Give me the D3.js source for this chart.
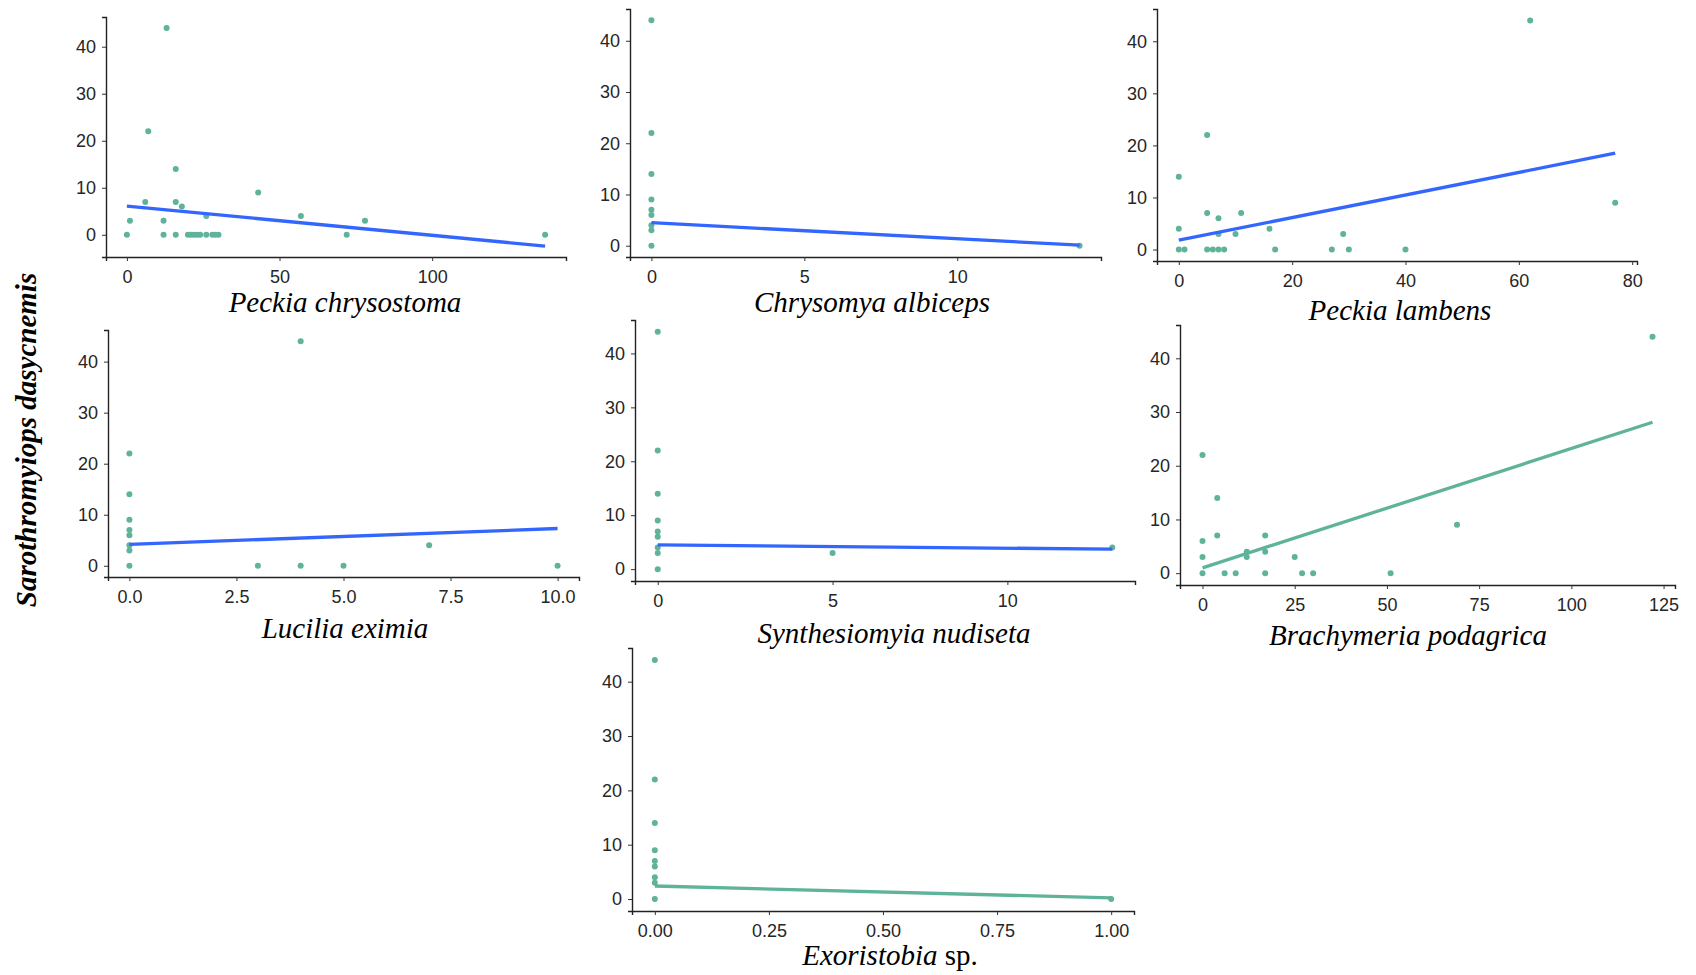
<!DOCTYPE html>
<html>
<head>
<meta charset="utf-8">
<script src="https://cdn.jsdelivr.net/npm/d3@7"></script>
<style>
  body { margin: 0; background: #fff; }
  .tick text { font-family: "Liberation Sans", Arial, sans-serif; font-size: 18px; fill: #262626; }
  .title { font-family: "Liberation Serif", "Times New Roman", serif; font-style: italic; font-size: 29px; fill: #000; }
</style>
</head>
<body>
<script>
// y variable label shared by every panel
var yLabel = "Sarothromyiops dasycnemis";
var titles = ["Peckia chrysostoma", "Chrysomya albiceps", "Peckia lambens", "Lucilia eximia",
  "Synthesiomyia nudiseta", "Brachymeria podagrica", "Exoristobia sp."];

// values (x = species count, y = S. dasycnemis count)
var chrysostomaX = [0, 1, 6, 7, 13, 12, 12, 16, 16, 16, 18, 20, 21, 22, 23, 24, 26, 26, 28, 29, 30, 43, 57, 72, 78, 137];
var chrysostomaY = [0, 3, 7, 22, 44, 3, 0, 14, 7, 0, 6, 0, 0, 0, 0, 0, 4, 0, 0, 0, 0, 9, 4, 0, 3, 0];
var albicepsX = [0, 0, 0, 0, 0, 0, 0, 0, 0, 14];
var albicepsY = [44, 22, 14, 9, 7, 6, 4, 3, 0, 0];
var lambensX = [0, 0, 0, 1, 5, 5, 5, 6, 7, 7, 7, 8, 10, 11, 16, 17, 27, 29, 30, 40, 62, 77];
var lambensY = [14, 4, 0, 0, 22, 7, 0, 0, 6, 3, 0, 0, 3, 7, 4, 0, 0, 3, 0, 0, 44, 9];
var eximiaX = [0, 0, 0, 0, 0, 0, 0, 0, 3, 4, 4, 5, 7, 10];
var eximiaY = [22, 14, 9, 7, 6, 4, 3, 0, 0, 44, 0, 0, 4, 0];
var nudisetaX = [0, 0, 0, 0, 0, 0, 0, 0, 0, 5, 13];
var nudisetaY = [44, 22, 14, 9, 7, 6, 4, 3, 0, 3, 4];
var podagricaX = [0, 0, 0, 0, 4, 4, 6, 9, 12, 12, 17, 17, 17, 25, 27, 30, 51, 69, 122];
var podagricaY = [22, 6, 3, 0, 14, 7, 0, 0, 4, 3, 7, 4, 0, 3, 0, 0, 0, 9, 44];
var exoristobiaX = [0, 0, 0, 0, 0, 0, 0, 0, 0, 1];
var exoristobiaY = [44, 22, 14, 9, 7, 6, 4, 3, 0, 0];

// fitted line: y at min x and y at max x
var fitStart = [6.1, 4.5, 1.8, 4.2, 4.5, 1.0, 2.4];
var fitEnd = [-2.4, 0.1, 18.5, 7.3, 3.7, 28.1, 0.2];

var xTicks = [[0, 50, 100], [0, 5, 10], [0, 20, 40, 60, 80], [0, 2.5, 5, 7.5, 10],
  [0, 5, 10], [0, 25, 50, 75, 100, 125], [0, 0.25, 0.5, 0.75, 1]];
var xFormats = ["d", "d", "d", ".1f", "d", "d", ".2f"];
var yTicks = [0, 10, 20, 30, 40];

var xs = [chrysostomaX, albicepsX, lambensX, eximiaX, nudisetaX, podagricaX, exoristobiaX];
var ys = [chrysostomaY, albicepsY, lambensY, eximiaY, nudisetaY, podagricaY, exoristobiaY];

// panel boxes in page pixels: left, right, top, bottom, title x, title baseline
var boxes = [
  [106, 566, 17, 257, 345, 312],
  [630, 1101, 9, 257, 872, 312],
  [1157, 1637, 9, 261, 1400, 320],
  [108, 579, 330, 577, 345, 638],
  [635, 1135, 320, 581, 894, 643],
  [1180, 1675, 325, 585, 1408, 645],
  [632, 1134, 648, 911, 890, 965]
];

var pointColor = "#5fb39b";
var lineColors = ["#3366ff", "#3366ff", "#3366ff", "#3366ff", "#3366ff", pointColor, pointColor];

var svg = d3.select("body").append("svg")
  .attr("width", 1696)
  .attr("height", 975);

function expand(lo, hi) {
  var r = hi - lo;
  return [lo - r * 0.05, hi + r * 0.05];
}

titles.forEach(function (title, i) {
  var b = boxes[i];
  var xv = xs[i], yv = ys[i];
  var xmin = d3.min(xv), xmax = d3.max(xv);
  var ymin = d3.min(yv.concat([fitStart[i], fitEnd[i]]));
  var ymax = d3.max(yv.concat([fitStart[i], fitEnd[i]]));

  var x = d3.scaleLinear().domain(expand(xmin, xmax)).range([b[0], b[1]]);
  var y = d3.scaleLinear().domain(expand(ymin, ymax)).range([b[3], b[2]]);

  var g = svg.append("g");

  // points
  g.selectAll("circle")
    .data(d3.range(xv.length))
    .enter()
    .append("circle")
    .attr("cx", function (j) { return x(xv[j]); })
    .attr("cy", function (j) { return y(yv[j]); })
    .attr("r", 3)
    .attr("fill", pointColor);

  // fitted line
  g.append("path")
    .datum([[xmin, fitStart[i]], [xmax, fitEnd[i]]])
    .attr("fill", "none")
    .attr("stroke", lineColors[i])
    .attr("stroke-width", 3.3)
    .attr("d", d3.line()
      .x(function (d) { return x(d[0]); })
      .y(function (d) { return y(d[1]); }));

  var xAxis = d3.axisBottom(x)
    .tickValues(xTicks[i])
    .tickFormat(d3.format(xFormats[i]))
    .tickSizeOuter(0)
    .tickSize(4)
    .tickPadding(9);

  g.append("g")
    .attr("transform", "translate(0," + b[3] + ")")
    .call(xAxis)
    .call(function (a) {
      a.select(".domain").attr("stroke", "#222").attr("stroke-width", 1.4);
      a.selectAll(".tick line").attr("stroke", "#333");
    });

  var yAxis = d3.axisLeft(y)
    .tickValues(yTicks)
    .tickFormat(d3.format("d"))
    .tickSizeOuter(0)
    .tickSize(4)
    .tickPadding(6);

  g.append("g")
    .attr("transform", "translate(" + b[0] + ",0)")
    .call(yAxis)
    .call(function (a) {
      a.select(".domain").attr("stroke", "#222").attr("stroke-width", 1.4);
      a.selectAll(".tick line").attr("stroke", "#333");
    });

  // panel title (x variable)
  var t = g.append("text")
    .attr("class", "title")
    .attr("x", b[4])
    .attr("y", b[5])
    .attr("text-anchor", "middle");
  if (title.slice(-4) === " sp.") {
    t.append("tspan").text(title.slice(0, -4));
    t.append("tspan").attr("font-style", "normal").text(" sp.");
  } else {
    t.text(title);
  }
});

svg.append("text")
  .attr("transform", "translate(36,440) rotate(-90)")
  .attr("text-anchor", "middle")
  .attr("font-family", "'Liberation Serif', 'Times New Roman', serif")
  .attr("font-style", "italic")
  .attr("font-weight", "bold")
  .attr("font-size", 29)
  .text(yLabel);
</script>
</body>
</html>
